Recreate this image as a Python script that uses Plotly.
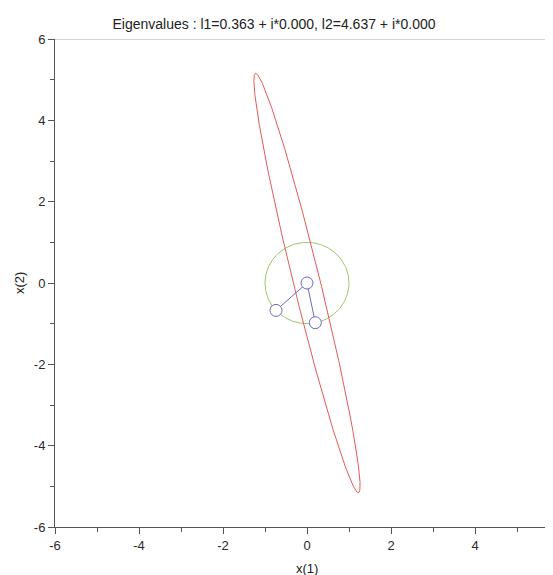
import numpy as np
import plotly.graph_objects as go

# ---- data ----
eigenvalues = [0.363, 4.637]
eigvec_1 = [-0.738, -0.674]   # unit eigenvector for l1
eigvec_2 = [0.198, -0.976]    # unit eigenvector for l2
origin = [0.0, 0.0]
x_tickvals = [-6, -4, -2, 0, 2, 4]
x_ticktext = ["-6", "-4", "-2", "0", "2", "4"]
y_tickvals = [-6, -4, -2, 0, 2, 4, 6]
y_ticktext = ["-6", "-4", "-2", "0", "2", "4", "6"]
x_range = [-6, 5.857]
y_range = [-6, 6]
title_text = "Eigenvalues : l1=0.363 + i*0.000, l2=4.637 + i*0.000"

# matrix rebuilt from its eigen-decomposition; unit circle and its image
V = np.array([eigvec_1, eigvec_2]).T
A = V @ np.diag(eigenvalues) @ np.linalg.inv(V)
theta = np.linspace(0, 2 * np.pi, 401)
unit_circle = np.vstack([np.cos(theta), np.sin(theta)])
image = A @ unit_circle

# page body has an 8px margin, so the figure is sized to end at the window edge
W, H = 545, 567
ML, MR, MT, MB = 47, 0, 31, 48

fig = go.Figure()
fig.add_trace(go.Scatter(x=unit_circle[0], y=unit_circle[1], mode="lines",
                         line=dict(color="#a0c468", width=1), hoverinfo="skip"))
fig.add_trace(go.Scatter(x=image[0], y=image[1], mode="lines",
                         line=dict(color="#e25a5a", width=1), hoverinfo="skip"))
fig.add_trace(go.Scatter(x=[eigvec_1[0], origin[0], eigvec_2[0]],
                         y=[eigvec_1[1], origin[1], eigvec_2[1]],
                         mode="lines+markers",
                         line=dict(color="#6a6ac4", width=1),
                         marker=dict(symbol="circle", size=12, color="white",
                                     line=dict(color="#6a6ac4", width=1)),
                         hoverinfo="skip"))

axis_common = dict(showgrid=False, zeroline=False, showline=True, automargin=False,
                   linecolor="#555555", linewidth=1,
                   ticks="outside", ticklen=6, tickwidth=1, tickcolor="#555555",
                   tickfont=dict(family="Liberation Sans, Arial, sans-serif",
                                 size=13, color="#2a2a2a"),
                   minor=dict(ticks="outside", ticklen=4, dtick=1,
                              tickcolor="#555555", tickwidth=1))

fig.update_layout(
    width=W, height=H,
    margin=dict(l=ML, r=MR, t=MT, b=MB, pad=0, autoexpand=False),
    paper_bgcolor="white", plot_bgcolor="white",
    showlegend=False,
    font=dict(family="Liberation Sans, Arial, sans-serif", color="#222222"),
    title=dict(text=title_text, x=266 / W, xanchor="center",
               y=1 - 16 / H, yanchor="middle", yref="container", automargin=False,
               font=dict(size=14, color="#222222")),
    xaxis=dict(range=x_range, tickmode="array", tickvals=x_tickvals,
               ticktext=x_ticktext, **axis_common),
    yaxis=dict(range=y_range, tickmode="array", tickvals=y_tickvals,
               ticktext=y_ticktext, **axis_common),
    shapes=[dict(type="line", xref="paper", yref="y", x0=0, x1=1, y0=6, y1=6,
                 line=dict(color="#aaaaaa", width=1))],
    annotations=[
        dict(text="x(1)", xref="x", yref="paper", x=0, y=-(560 - (H - MB)) / (H - MT - MB),
             xanchor="center", yanchor="middle", showarrow=False,
             font=dict(size=13, color="#222222")),
        dict(text="x(2)", xref="paper", yref="y", x=-(ML - 11) / (W - ML - MR), y=0,
             xanchor="center", yanchor="middle", showarrow=False, textangle=-90,
             font=dict(size=13, color="#222222")),
    ],
)

fig.write_html("out.html")
